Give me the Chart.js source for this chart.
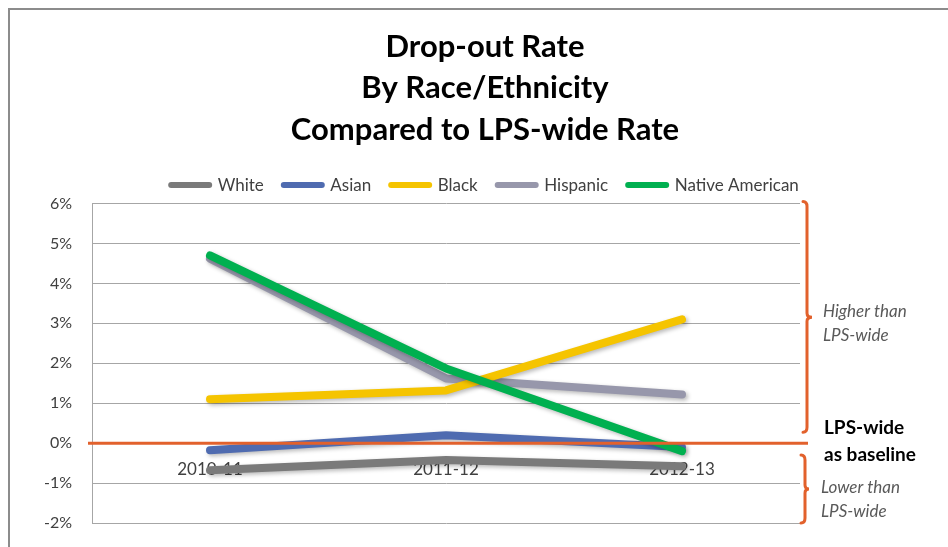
<!DOCTYPE html>
<html>
<head>
<meta charset="utf-8">
<script src="https://cdn.jsdelivr.net/npm/chart.js@4/dist/chart.umd.min.js"></script>
<style>
  html, body { margin: 0; padding: 0; background: #ffffff; }
  #wrap { width: 948px; height: 547px; position: relative; }
</style>
</head>
<body>
<div id="wrap"><canvas id="c" width="948" height="547"></canvas></div>
<script>
// ---- data (percentage points relative to LPS-wide rate) ----
const categories = ['2010-11', '2011-12', '2012-13'];
const whiteVals    = [-0.68, -0.42, -0.58];
const asianVals    = [-0.18,  0.20, -0.10];
const blackVals    = [ 1.10,  1.32,  3.10];
const hispanicVals = [ 4.62,  1.62,  1.22];
const nativeVals   = [ 4.70,  1.87, -0.20];
const seriesNames  = ['White', 'Asian', 'Black', 'Hispanic', 'Native American'];
const yTicks = { min: -2, max: 6, step: 1 };
const titleLines = ['Drop-out Rate', 'By Race/Ethnicity', 'Compared to LPS-wide Rate'];

const FONT = 'Lato, "Open Sans", "Liberation Sans", sans-serif';
const colors = ['#7a7a7a', '#4f6bb0', '#f5c400', '#9797ab', '#00b050'];
const orders = [5, 4, 2, 3, 1];
const allVals = [whiteVals, asianVals, blackVals, hispanicVals, nativeVals];

const datasets = seriesNames.map((name, i) => ({
  label: name,
  data: allVals[i],
  borderColor: colors[i],
  backgroundColor: colors[i],
  borderWidth: 8,
  borderCapStyle: 'round',
  borderJoinStyle: 'round',
  pointRadius: 0,
  pointHoverRadius: 0,
  tension: 0,
  fill: false,
  order: orders[i],
  yAxisID: 'y'
}));

const shadowPlugin = {
  id: 'shadow',
  beforeDatasetDraw(chart) {
    const ctx = chart.ctx;
    ctx.save();
    ctx.shadowColor = 'rgba(0,0,0,0.28)';
    ctx.shadowBlur = 4;
    ctx.shadowOffsetX = 2;
    ctx.shadowOffsetY = 2;
  },
  afterDatasetDraw(chart) {
    chart.ctx.restore();
  }
};

const annotPlugin = {
  id: 'annot',
  afterDatasetsDraw(chart) {
    const ctx = chart.ctx;
    const y = chart.scales.y;
    const ca = chart.chartArea;
    const y0 = y.getPixelForValue(0);
    ctx.save();
    ctx.strokeStyle = '#e2612c';
    ctx.lineWidth = 3;
    ctx.beginPath();
    ctx.moveTo(ca.left - 4, y0);
    ctx.lineTo(ca.right + 8, y0);
    ctx.stroke();
    ctx.restore();
  },
  afterDraw(chart) {
    const ctx = chart.ctx;
    const y = chart.scales.y;
    const ca = chart.chartArea;
    ctx.save();
    // outer frame
    ctx.strokeStyle = '#8c8c8c';
    ctx.lineWidth = 2;
    ctx.beginPath();
    ctx.moveTo(948, 9);
    ctx.lineTo(9, 9);
    ctx.lineTo(9, 547);
    ctx.stroke();

    // braces
    function brace(x0, xv, xn, y1, y2, ym) {
      ctx.beginPath();
      ctx.moveTo(x0, y1);
      ctx.quadraticCurveTo(xv, y1, xv, y1 + 5);
      ctx.lineTo(xv, ym - 4);
      ctx.quadraticCurveTo(xv, ym, xn, ym);
      ctx.quadraticCurveTo(xv, ym, xv, ym + 4);
      ctx.lineTo(xv, y2 - 5);
      ctx.quadraticCurveTo(xv, y2, x0, y2);
      ctx.stroke();
    }
    ctx.strokeStyle = '#e2612c';
    ctx.lineWidth = 3;
    ctx.lineCap = 'round';
    const r = ca.right;
    brace(r + 3, r + 7, r + 12, y.getPixelForValue(6) - 2, y.getPixelForValue(0.27), y.getPixelForValue(3.15));
    brace(r + 1, r + 5, r + 9, y.getPixelForValue(-0.3), y.getPixelForValue(-2), y.getPixelForValue(-1.15));

    // texts
    ctx.textBaseline = 'middle';
    ctx.textAlign = 'left';
    ctx.fillStyle = '#595959';
    ctx.font = 'italic 17px ' + FONT;
    ctx.fillText('Higher than', r + 23, y.getPixelForValue(3.3));
    ctx.fillText('LPS-wide', r + 23, y.getPixelForValue(2.7));
    ctx.fillText('Lower than', r + 21, y.getPixelForValue(-1.12));
    ctx.fillText('LPS-wide', r + 21, y.getPixelForValue(-1.7));
    ctx.fillStyle = '#000000';
    ctx.font = 'bold 19px ' + FONT;
    ctx.fillText('LPS-wide', r + 24, y.getPixelForValue(0.37));
    ctx.fillText('as baseline', r + 24, y.getPixelForValue(-0.3));
    ctx.restore();
  }
};

new Chart(document.getElementById('c'), {
  type: 'line',
  data: { labels: categories, datasets },
  plugins: [shadowPlugin, annotPlugin],
  options: {
    responsive: false,
    animation: false,
    devicePixelRatio: 1,
    layout: { padding: { left: 22, right: 0, top: 0, bottom: 24 } },
    plugins: {
      tooltip: { enabled: false },
      title: {
        display: true,
        text: titleLines,
        color: '#000000',
        font: { family: FONT, size: 31, weight: 'bold', lineHeight: 1.339 },
        padding: { top: 26, bottom: 6 }
      },
      legend: {
        display: true,
        position: 'top',
        labels: {
          color: '#404040',
          font: { family: FONT, size: 17 },
          usePointStyle: true,
          pointStyleWidth: 38,
          padding: 20,
          generateLabels(chart) {
            const items = Chart.defaults.plugins.legend.labels.generateLabels(chart);
            return items.map(it => Object.assign(it, {
              pointStyle: 'line', lineWidth: 6, lineCap: 'round', strokeStyle: colors[it.datasetIndex]
            }));
          },
          sort: (a, b) => a.datasetIndex - b.datasetIndex
        }
      }
    },
    scales: {
      x: {
        type: 'category',
        position: { y: 0 },
        offset: true,
        z: 1,
        grid: { display: false, drawTicks: false },
        border: { display: false },
        ticks: { color: '#404040', font: { family: FONT, size: 17 }, padding: 16, maxRotation: 0 }
      },
      y: {
        type: 'linear',
        position: 'left',
        min: yTicks.min,
        max: yTicks.max,
        afterFit(s) { s.width = 70; s.paddingTop = 0; s.paddingBottom = 0; },
        grid: { color: '#a6a6a6', lineWidth: 1, drawTicks: false },
        border: { display: true, color: '#a6a6a6', width: 1 },
        ticks: {
          stepSize: yTicks.step,
          color: '#404040',
          font: { family: FONT, size: 16 },
          padding: 20,
          callback: v => v + '%'
        }
      },
      yR: {
        type: 'linear',
        position: 'right',
        min: 0, max: 1,
        afterFit(s) { s.width = 148; s.paddingTop = 0; s.paddingBottom = 0; },
        grid: { display: false, drawTicks: false },
        border: { display: false },
        ticks: { display: false }
      }
    }
  }
});
</script>
</body>
</html>
